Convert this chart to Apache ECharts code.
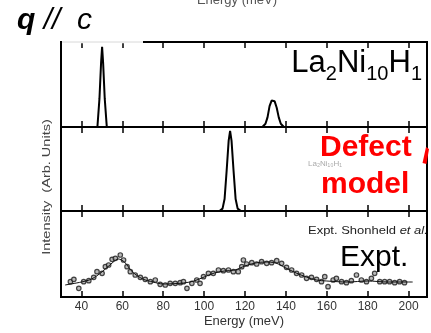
<!DOCTYPE html>
<html>
<head>
<meta charset="utf-8">
<script src="https://cdn.jsdelivr.net/npm/echarts@6/dist/echarts.min.js"></script>
<style>
  html, body { margin: 0; padding: 0; background: #fff; }
  #main { width: 431px; height: 333px; }
</style>
</head>
<body>
<div id="main"></div>
<script>
// energy axis ticks (meV)
var energyTicks = [40, 60, 80, 100, 120, 140, 160, 180, 200];

// calculated spectrum, La2Ni10H1 model  [energy, intensity]
var calcH1 = [
  [30, 0], [47.8, 0], [48.8, 0.35], [49.6, 0.8], [50.1, 1], [50.6, 0.8], [51.4, 0.35], [52.4, 0],
  [128.5, 0], [130, 0.04], [131, 0.12], [132, 0.26], [133, 0.33], [133.7, 0.34], [134.5, 0.32],
  [135.5, 0.24], [136.5, 0.12], [137.5, 0.04], [139, 0], [209, 0]
];

// calculated spectrum, defect model
var calcDefect = [
  [30, 0], [107.5, 0], [109, 0.03], [110, 0.15], [111, 0.5], [112, 0.88], [112.7, 1],
  [113.4, 0.88], [114.4, 0.5], [115.4, 0.15], [116.4, 0.03], [118, 0], [209, 0]
];

// experiment (Shonheld et al.) points
var exptPoints = [
  [34.6, 15.3], [36.3, 17.7], [38.7, 8.7], [41.1, 15.3], [43.6, 16.3], [46.0, 19.7], [47.6, 25.3],
  [50.1, 23.7], [51.7, 30.3], [53.3, 32], [55.0, 37.7], [56.6, 38.7], [59.0, 42], [60.6, 37],
  [62.3, 30.3], [63.9, 25.3], [66.3, 22], [68.8, 19.7], [71.2, 17.7], [73.7, 15.3], [76.1, 17],
  [78.5, 12.7], [81.0, 12], [83.4, 13.7], [85.9, 13.7], [88.3, 14.3], [89.9, 15.3], [91.6, 8.7],
  [94.0, 13.7], [96.4, 17], [98.0, 13.7], [99.7, 20.3], [102.1, 23.7], [104.5, 23.7], [107.0, 27],
  [109.4, 26.3], [111.9, 27], [114.3, 25.3], [116.7, 25.3], [118.4, 30.3], [119.2, 37], [120.8, 33],
  [123.3, 34.3], [125.7, 33], [128.1, 35.3], [130.6, 33.7], [133.0, 34.3], [135.5, 36.3],
  [137.9, 33.7], [140.3, 29.7], [142.8, 27], [145.2, 23.7], [147.7, 22], [150.1, 18.7],
  [152.5, 19.7], [155.0, 17.7], [157.4, 15.3], [159.0, 20.3], [160.6, 10.3], [163.1, 17],
  [164.7, 18.7], [167.2, 15.3], [169.6, 14.3], [172.0, 16.3], [174.5, 22], [176.9, 17],
  [179.4, 15.3], [181.8, 18.7], [183.4, 23.7], [185.9, 15.3], [188.3, 15.3], [190.7, 15.3],
  [193.2, 14.3], [195.6, 15.3], [198.0, 14.3]
];

// smooth guide line through the experiment
var exptFit = [
  [32, 12], [40, 15], [45, 18], [50, 25], [55, 34], [58, 38], [61, 35], [65, 25], [70, 18],
  [75, 15], [80, 13], [90, 14], [95, 16], [100, 20], [105, 24], [110, 26], [115, 27], [120, 31],
  [125, 34], [130, 35], [135, 34], [140, 29], [145, 24], [150, 20], [155, 17], [160, 16],
  [170, 15], [180, 16], [190, 15], [202, 15]
];

var chart = echarts.init(document.getElementById('main'));
var font = 'Liberation Sans, Arial, sans-serif';

function energyAxis(gridIndex, position, withLabels) {
  return {
    type: 'value',
    gridIndex: gridIndex,
    position: position,
    min: 30,
    max: 209,
    splitNumber: 9,
    minInterval: 20,
    maxInterval: 20,
    axisLine: { show: false },
    splitLine: { show: false },
    axisTick: { inside: true, length: 6, lineStyle: { color: '#000', width: 1.5 } },
    axisLabel: {
      show: withLabels,
      color: '#333',
      fontSize: 12,
      fontFamily: font,
      margin: 4,
      formatter: function (v) { return energyTicks.indexOf(v) >= 0 ? String(v) : ''; }
    },
    name: withLabels ? 'Energy (meV)' : '',
    nameLocation: 'middle',
    nameGap: 18,
    nameTextStyle: { color: '#333', fontSize: 13, fontFamily: font }
  };
}

function grid(top, height) {
  return { left: 61, width: 366, top: top, height: height, show: true, borderColor: '#000', borderWidth: 2, backgroundColor: 'transparent' };
}

var option = {
  animation: false,
  backgroundColor: '#fff',
  grid: [grid(42, 85), grid(127, 84), grid(211, 86)],
  xAxis: [
    energyAxis(0, 'bottom', false), energyAxis(0, 'top', false),
    energyAxis(1, 'bottom', false), energyAxis(1, 'top', false),
    energyAxis(2, 'bottom', true), energyAxis(2, 'top', false)
  ],
  yAxis: [
    { type: 'value', gridIndex: 0, min: 0, max: 1.06, show: false },
    { type: 'value', gridIndex: 1, min: 0, max: 1.05, show: false },
    { type: 'value', gridIndex: 2, min: 0, max: 86, show: false }
  ],
  series: [
    {
      type: 'line', xAxisIndex: 0, yAxisIndex: 0, data: calcH1, showSymbol: false,
      lineStyle: { color: '#000', width: 2 }
    },
    {
      type: 'line', xAxisIndex: 2, yAxisIndex: 1, data: calcDefect, showSymbol: false,
      lineStyle: { color: '#000', width: 2 }
    },
    {
      type: 'line', xAxisIndex: 4, yAxisIndex: 2, data: exptFit, showSymbol: false, smooth: 0.3,
      lineStyle: { color: '#111', width: 1 }
    },
    {
      type: 'scatter', xAxisIndex: 4, yAxisIndex: 2, data: exptPoints, symbol: 'circle', symbolSize: 4.5,
      itemStyle: { color: '#a8a8a8', borderColor: '#1a1a1a', borderWidth: 1.2 }
    }
  ],
  graphic: [
    // faded part of the top frame
    { type: 'rect', shape: { x: 62, y: 40, width: 81, height: 3.2 }, style: { fill: '#fff' }, z: 50 },
    { type: 'line', shape: { x1: 62, y1: 42, x2: 143, y2: 42 }, style: { stroke: '#d8d8d8', lineWidth: 1 }, z: 51 },
    {
      type: 'text', x: 237, y: 0, z: 60,
      style: { text: 'Energy (meV)', fontSize: 13, fontFamily: font, fill: '#555', align: 'center', verticalAlign: 'middle' }
    },
    {
      type: 'text', x: 17, y: 21, z: 60,
      style: {
        text: '{q|q}{r| //  c}', align: 'left', verticalAlign: 'middle',
        rich: {
          q: { fontSize: 30, fontWeight: 'bold', fontStyle: 'italic', fontFamily: font, fill: '#000' },
          r: { fontSize: 30, fontStyle: 'italic', fontFamily: font, fill: '#000' }
        }
      }
    },
    {
      type: 'text', x: 47, y: 187, rotation: Math.PI / 2, scaleX: 1.32, z: 60,
      style: { text: 'Intensity  (Arb. Units)', fontSize: 11, fontFamily: font, fill: '#444', align: 'center', verticalAlign: 'middle' }
    },
    {
      type: 'text', x: 422, y: 66, z: 60,
      style: {
        text: '{m|La}{s|2}{m|Ni}{s|10}{m|H}{s|1}', align: 'right', verticalAlign: 'middle',
        rich: {
          m: { fontSize: 31, fontFamily: font, fill: '#000', verticalAlign: 'bottom', padding: [0, 0, 6, 0] },
          s: { fontSize: 20, fontFamily: font, fill: '#000', verticalAlign: 'bottom' }
        }
      }
    },
    {
      type: 'text', x: 308, y: 164, z: 40,
      style: { text: 'La₂Ni₁₀H₁', fontSize: 8, fontFamily: font, fill: '#aaa', align: 'left', verticalAlign: 'middle' }
    },
    {
      type: 'text', x: 320, y: 147.5, z: 60,
      style: { text: 'Defect', fontSize: 30, fontWeight: 'bold', fontFamily: font, fill: '#f00', align: 'left', verticalAlign: 'middle' }
    },
    {
      type: 'text', x: 321, y: 184.5, z: 60,
      style: { text: 'model', fontSize: 30, fontWeight: 'bold', fontFamily: font, fill: '#f00', align: 'left', verticalAlign: 'middle' }
    },
    {
      type: 'polygon', z: 60,
      shape: { points: [[426, 147], [429, 149], [426.5, 164], [422.5, 163]] },
      style: { fill: '#f00' }
    },
    {
      type: 'text', x: 308, y: 231, scaleX: 1.18, z: 60,
      style: {
        text: 'Expt. Shonheld {i|et al.}', fontSize: 11, fontFamily: font, fill: '#222', align: 'left', verticalAlign: 'middle',
        rich: { i: { fontSize: 11, fontStyle: 'italic', fontFamily: font, fill: '#222' } }
      }
    },
    {
      type: 'text', x: 340, y: 258, z: 60,
      style: { text: 'Expt.', fontSize: 30, fontFamily: font, fill: '#000', align: 'left', verticalAlign: 'middle' }
    }
  ]
};

chart.setOption(option);
</script>
</body>
</html>
